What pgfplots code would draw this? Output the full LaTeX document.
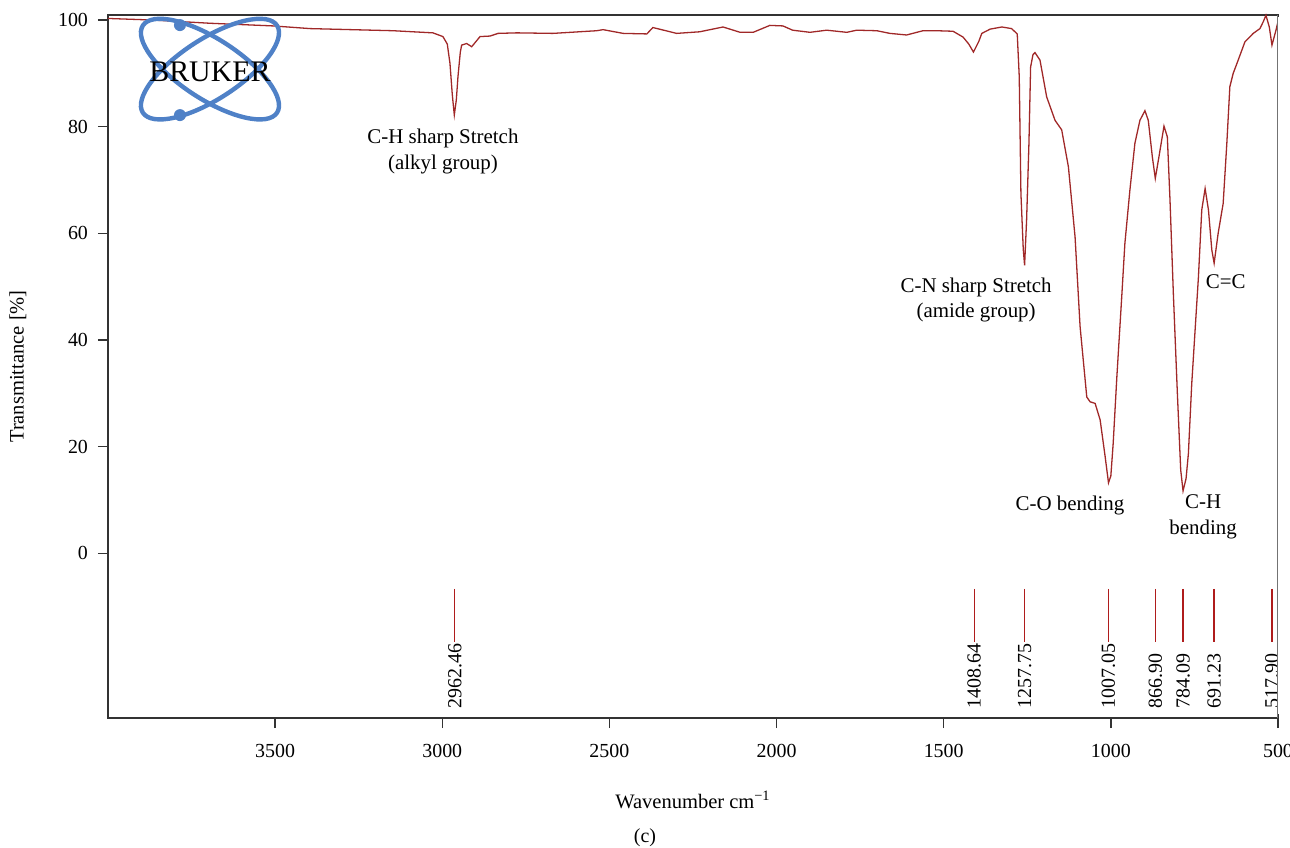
\documentclass[border=0pt]{standalone}
\usepackage{fontspec}
\setmainfont{Liberation Serif}
\usepackage{pgfplots}
\pgfplotsset{compat=1.18}
\definecolor{spec}{RGB}{160,40,40}
\definecolor{peak}{RGB}{175,28,28}
\definecolor{bruker}{RGB}{79,129,199}
\begin{document}
\begin{tikzpicture}
\useasboundingbox (-54bp,-65bp) rectangle (591bp,359bp);
\begin{axis}[
  at={(0,0)}, anchor=south west,
  scale only axis, width=585bp, height=351.5bp,
  x dir=reverse,
  xmin=500, xmax=4000, ymin=-30.9, ymax=100.95,
  xtick={500,1000,...,3500}, ytick={0,20,...,100},
  xtick pos=bottom, ytick pos=left, tick align=outside,
  major tick length=5bp,
  tick style={black!80, line width=0.7pt},
  axis line style={black!80, line width=0.7pt},
  /pgf/number format/1000 sep={},
  /pgf/number format/assume math mode=true,
  tick label style={font=\fontsize{10}{12}\selectfont},
  xticklabel style={yshift=-4.5bp},
  yticklabel style={xshift=-1.5bp},
  xlabel={Wavenumber cm\textsuperscript{−1}},
  ylabel={Transmittance [\%]},
  label style={font=\fontsize{10.3}{12}\selectfont},
  xlabel style={at={(axis description cs:0.5,0)}, anchor=center, yshift=-41bp},
  ylabel style={at={(axis description cs:0,0.5)}, anchor=center, yshift=45bp},
  clip=false,
]
\addplot[spec, line width=0.65pt] coordinates {
(4000,100.3) (3865,100.0) (3695,99.4) (3506,98.9) (3396,98.4) (3147,98.0)
(3028,97.6) (2998,96.9) (2985,95.5) (2977,91.9) (2970,86.0) (2964,82.2)
(2958,85.0) (2953,89.4) (2946,94.0) (2942,95.3) (2927,95.6) (2912,95.0)
(2887,96.9) (2857,97.0) (2833,97.5) (2777,97.6) (2669,97.5) (2538,98.0)
(2519,98.2) (2459,97.5) (2388,97.4) (2370,98.6) (2299,97.5) (2230,97.8)
(2160,98.7) (2109,97.7) (2070,97.7) (2020,99.0) (1981,98.9) (1952,98.1)
(1900,97.7) (1850,98.1) (1790,97.7) (1760,98.1) (1700,98.0) (1661,97.5)
(1611,97.2) (1562,98.0) (1521,98.0) (1472,97.9) (1442,96.8) (1425,95.5)
(1411,94.0) (1395,96.0) (1386,97.5) (1361,98.3) (1326,98.7) (1297,98.4)
(1280,97.4) (1274,89.4) (1269,67.5) (1262,57.0) (1258,54.0) (1252,62.5)
(1245,76.9) (1240,91.2) (1233,93.5) (1227,93.9) (1212,92.5) (1192,85.6)
(1167,81.2) (1147,79.4) (1127,72.5) (1107,59.3) (1092,42.5) (1072,29.3)
(1062,28.4) (1047,28.1) (1032,25.0) (1017,18.1) (1007,13.2) (1000,14.5)
(993,20.6) (982,33.1) (968,47.5) (958,58.1) (943,68.1) (928,76.9)
(913,81.2) (898,83.0) (888,81.2) (876,74.4) (867,70.3) (856,74.4)
(841,80.1) (831,78.1) (823,66.2) (813,48.7) (801,30.0) (791,15.6)
(784,11.7) (775,14.0) (768,18.7) (758,31.8) (748,41.8) (738,51.8)
(728,64.4) (718,68.4) (708,64.4) (698,56.9) (691,54.4) (679,60.0)
(664,65.6) (653,76.9) (644,87.5) (634,90.0) (619,92.5) (599,95.9)
(574,97.5) (554,98.4) (544,99.7) (536,100.9) (526,98.7) (518,95.3)
(506,98.1) (500,99.7)
};
\pgfplotsinvokeforeach{2962.46,1408.64,1257.75,1007.05,866.90,784.09,691.23,517.90}{
  \addplot[peak, line width=0.6pt] coordinates {(#1,-6.7) (#1,-16.7)};
  \node[rotate=90, anchor=west, inner sep=1bp, font=\fontsize{10}{12}\selectfont] at (axis cs:#1,-29.6) {#1};
}
\begin{scope}[font=\fontsize{10.5}{13}\selectfont, align=center]
\node at (axis cs:2998,75.3) {C-H sharp Stretch\\(alkyl group)};
\node at (axis cs:1403,47.5) {C-N sharp Stretch\\(amide group)};
\node at (axis cs:656,51.0) {C=C};
\node at (axis cs:1122,9.0) {C-O bending};
\node at (axis cs:724,6.8) {C-H\\bending};
\end{scope}
\draw[white, line width=1.2pt] (rel axis cs:1,0.005) -- (rel axis cs:1,0.997);
\draw[black!55, line width=0.5pt] (rel axis cs:1,0) -- (rel axis cs:1,1);
\coordinate (logo) at (axis cs:3695,90.8);
\coordinate (cap) at (axis description cs:0.459,0);
\end{axis}
\begin{scope}[shift={(logo)}]
  \draw[bruker, line width=2.2bp, rotate=33] (0,0) ellipse [x radius=40bp, y radius=15bp];
  \draw[bruker, line width=2.2bp, rotate=-33] (0,0) ellipse [x radius=40bp, y radius=15bp];
  \fill[bruker] (-15bp,22bp) circle (3bp);
  \fill[bruker] (-15bp,-23bp) circle (3bp);
  \node[font=\fontsize{15}{18}\selectfont] at (0,-1.5bp) {BRUKER};
\end{scope}
\node[font=\fontsize{10}{12}\selectfont] at ([yshift=-60bp]cap) {(c)};
\end{tikzpicture}
\end{document}
